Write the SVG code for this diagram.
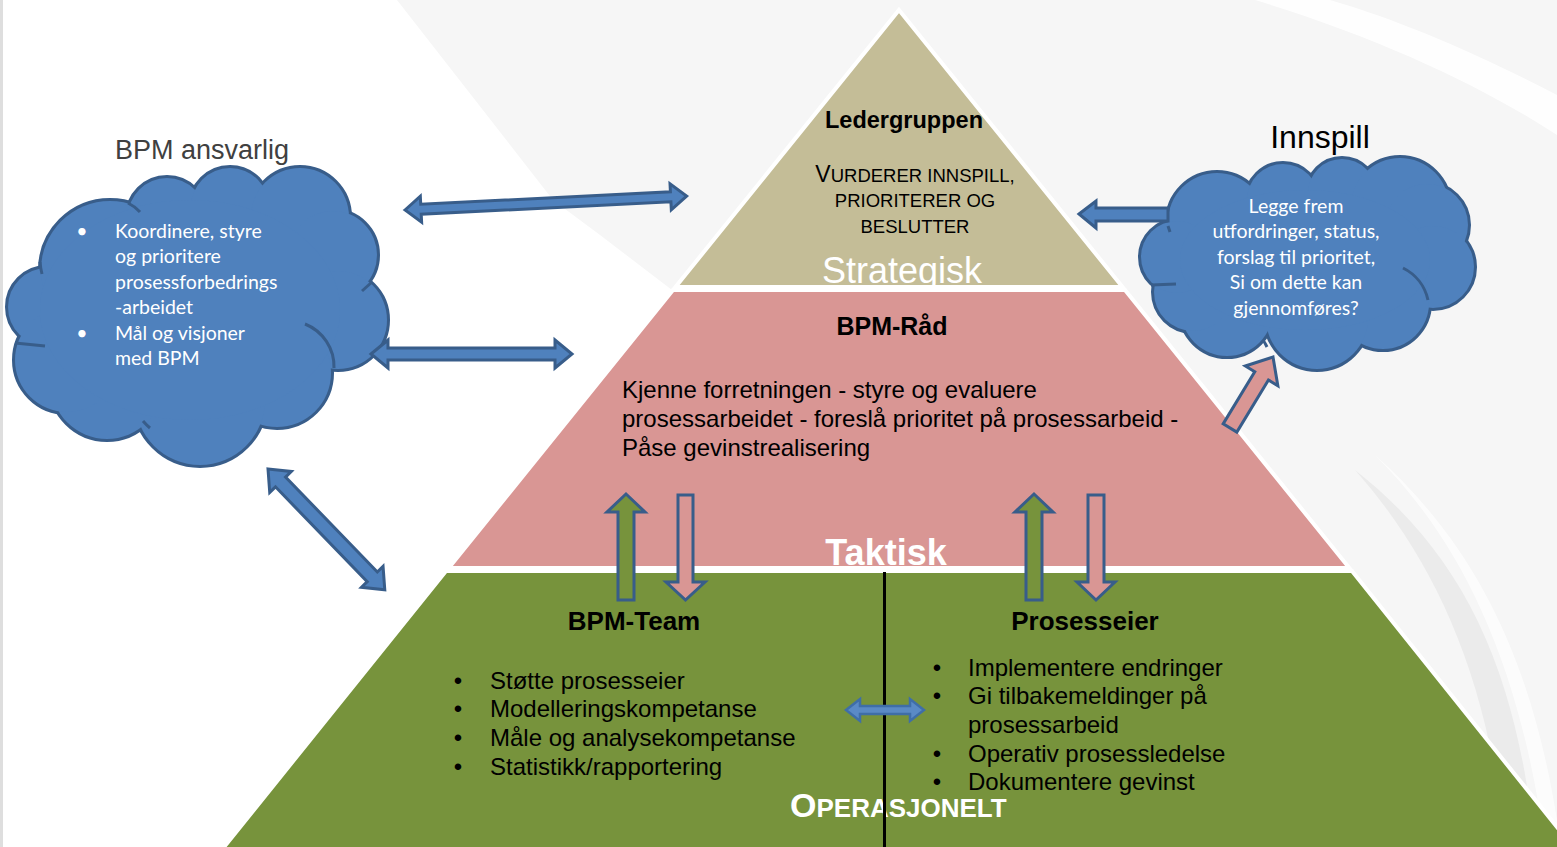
<svg xmlns="http://www.w3.org/2000/svg" width="1557" height="847" viewBox="0 0 1557 847">
<defs>
<style>
.lay{stroke:#FFFFFF;stroke-width:4;stroke-linejoin:miter}
.cl{fill:#4F81BD;stroke:#385D8A;stroke-width:4}
.cf{fill:#4F81BD}
.hook{fill:none;stroke:#385D8A;stroke-width:3}
.arr{fill:#4F81BD;stroke:#385D8A;stroke-width:3;stroke-linejoin:miter}
.arrg{fill:#77933C;stroke:#385D8A;stroke-width:3}
.arrp{fill:#D99694;stroke:#385D8A;stroke-width:3}
.ct{font-family:Lato,"Open Sans",sans-serif;font-size:19.5px;fill:#FFFFFF}
.t{font-family:"Liberation Sans",Arial,sans-serif;fill:#000000}
.b{font-weight:bold}
</style>
</defs>
<g id="background">
<rect x="0" y="0" width="1557" height="847" fill="#FFFFFF"/>
<polygon points="397,0 1557,0 1557,847 900,847 900,400 672,290 600,235 553,200" fill="#F6F6F6"/>
<path d="M1255,0 C1380,38 1480,85 1557,135 L1557,95 C1480,55 1400,20 1330,0 Z" fill="#FFFFFF" opacity="0.9"/>
<path d="M1355,470 C1435,560 1490,680 1505,847 L1535,847 C1518,680 1470,560 1355,470 Z" fill="#EBEBEB"/>
<path d="M1375,455 C1460,540 1520,660 1545,847 L1557,847 L1557,820 C1530,650 1470,540 1375,455 Z" fill="#FFFFFF" opacity="0.7"/>
<rect x="0" y="0" width="3" height="847" fill="#DEDEDE"/>
</g>
<g id="ledergruppen">
<polygon class="lay" points="899,10 1122.5,287 675.5,287" fill="#C4BD97"/>
<text class="t b" x="904" y="128" font-size="23.5" text-anchor="middle">Ledergruppen</text>
<text class="t" x="915" y="182" font-size="18.5" text-anchor="middle"><tspan font-size="23">V</tspan>URDERER INNSPILL,</text>
<text class="t" x="915" y="207" font-size="18.5" text-anchor="middle">PRIORITERER OG</text>
<text class="t" x="915" y="233" font-size="18.5" text-anchor="middle">BESLUTTER</text>
<text class="t" x="902" y="283" font-size="36" text-anchor="middle" style="fill:#FFFFFF">Strategisk</text>
</g>
<g id="bpm-raad">
<polygon class="lay" points="673,290 1125,290 1349.3,568 448.7,568" fill="#D99694"/>
<text class="t b" x="892" y="335" font-size="25" text-anchor="middle">BPM-Råd</text>
<text class="t" font-size="24"><tspan x="622" y="398">Kjenne forretningen - styre og evaluere</tspan><tspan x="622" y="427">prosessarbeidet - foreslå prioritet på prosessarbeid -</tspan><tspan x="622" y="456">Påse gevinstrealisering</tspan></text>
</g>
<g id="operasjonelt">
<polygon class="lay" points="446,571 1352,571 1585,862 212,862" fill="#77933C"/>
<text class="t b" x="886" y="565" font-size="36" text-anchor="middle" style="fill:#FFFFFF">Taktisk</text>
<text class="t b" x="634" y="630" font-size="26" text-anchor="middle">BPM-Team</text>
<text class="t b" x="1085" y="630" font-size="26" text-anchor="middle">Prosesseier</text>
<g class="t" font-size="24">
<text x="458" y="689" text-anchor="middle">•</text>
<text x="458" y="717" text-anchor="middle">•</text>
<text x="458" y="746" text-anchor="middle">•</text>
<text x="458" y="775" text-anchor="middle">•</text>
<text x="490" y="689">Støtte prosesseier</text>
<text x="490" y="717">Modelleringskompetanse</text>
<text x="490" y="746">Måle og analysekompetanse</text>
<text x="490" y="775">Statistikk/rapportering</text>
<text x="937" y="676" text-anchor="middle">•</text>
<text x="937" y="704" text-anchor="middle">•</text>
<text x="937" y="762" text-anchor="middle">•</text>
<text x="937" y="790" text-anchor="middle">•</text>
<text x="968" y="676">Implementere endringer</text>
<text x="968" y="704">Gi tilbakemeldinger på</text>
<text x="968" y="733">prosessarbeid</text>
<text x="968" y="762">Operativ prosessledelse</text>
<text x="968" y="790">Dokumentere gevinst</text>
</g>
<text class="t b" x="790" y="817" style="fill:#FFFFFF"><tspan font-size="34">O</tspan><tspan font-size="26">PERASJONELT</tspan></text>
<line x1="884.5" y1="572" x2="884.5" y2="847" stroke="#000000" stroke-width="3"/>
</g>
<g id="bpm-ansvarlig">
<text x="115" y="159" font-family="Liberation Sans, Arial, sans-serif" font-size="27" fill="#404040">BPM ansvarlig</text>
<g class="cl">
<circle cx="47" cy="307" r="40"/><circle cx="110" cy="270" r="70"/><circle cx="167" cy="217" r="40"/><circle cx="230" cy="207" r="40"/><circle cx="300" cy="217" r="50"/><circle cx="333" cy="255" r="45"/><circle cx="338" cy="320" r="50"/><circle cx="277" cy="373" r="55"/><circle cx="200" cy="400" r="66"/><circle cx="107" cy="383" r="57"/><circle cx="67" cy="360" r="53"/>
</g>
<g class="cf">
<circle cx="47" cy="307" r="39"/><circle cx="110" cy="270" r="69"/><circle cx="167" cy="217" r="39"/><circle cx="230" cy="207" r="39"/><circle cx="300" cy="217" r="49"/><circle cx="333" cy="255" r="44"/><circle cx="338" cy="320" r="49"/><circle cx="277" cy="373" r="54"/><circle cx="200" cy="400" r="65"/><circle cx="107" cy="383" r="56"/><circle cx="67" cy="360" r="52"/>
<ellipse cx="190" cy="310" rx="150" ry="110"/>
</g>
<path class="hook" d="M305,324 A46,46 0 0 1 334,368"/>
<path class="hook" d="M40,262 A70,70 0 0 0 42,274"/>
<path class="hook" d="M128,203 A40,40 0 0 1 140,212"/>
<path class="hook" d="M15,343 L45,346"/>
<path class="hook" d="M362,291 L372,282"/>
<path class="hook" d="M143,421 A66,66 0 0 0 150,428"/>
<text class="ct" x="82" y="238" text-anchor="middle">•</text>
<text class="ct" x="82" y="340" text-anchor="middle">•</text>
<text class="ct"><tspan x="115" y="238">Koordinere, styre</tspan><tspan x="115" y="263">og prioritere</tspan><tspan x="115" y="289">prosessforbedrings</tspan><tspan x="115" y="314">-arbeidet</tspan><tspan x="115" y="340">Mål og visjoner</tspan><tspan x="115" y="365">med BPM</tspan></text>
</g>
<g id="innspill">
<text x="1320" y="148" font-family="Liberation Sans, Arial, sans-serif" font-size="32" fill="#000000" text-anchor="middle">Innspill</text>
<g class="cl">
<circle cx="1217" cy="222" r="50"/><circle cx="1283" cy="200" r="37"/><circle cx="1342" cy="193" r="35"/><circle cx="1400" cy="207" r="50"/><circle cx="1427" cy="225" r="42"/><circle cx="1433" cy="267" r="42"/><circle cx="1383" cy="303" r="47"/><circle cx="1317" cy="318" r="52"/><circle cx="1227" cy="310" r="47"/><circle cx="1193" cy="292" r="40"/><circle cx="1177" cy="257" r="37"/>
</g>
<g class="cf">
<circle cx="1217" cy="222" r="49"/><circle cx="1283" cy="200" r="36"/><circle cx="1342" cy="193" r="34"/><circle cx="1400" cy="207" r="49"/><circle cx="1427" cy="225" r="41"/><circle cx="1433" cy="267" r="41"/><circle cx="1383" cy="303" r="46"/><circle cx="1317" cy="318" r="51"/><circle cx="1227" cy="310" r="46"/><circle cx="1193" cy="292" r="39"/><circle cx="1177" cy="257" r="36"/>
<ellipse cx="1305" cy="260" rx="125" ry="70"/>
</g>
<path class="hook" d="M1403,268 A47,47 0 0 1 1428,300"/>
<path class="hook" d="M1151,285 L1176,284"/>
<path class="hook" d="M1168,226 L1170,232"/>
<path class="hook" d="M1263,340 A50,50 0 0 1 1267,347"/>
<text class="ct" text-anchor="middle"><tspan x="1296" y="213">Legge frem</tspan><tspan x="1296" y="238">utfordringer, status,</tspan><tspan x="1296" y="264">forslag til prioritet,</tspan><tspan x="1296" y="289">Si om dette kan</tspan><tspan x="1296" y="315">gjennomføres?</tspan></text>
</g>
<g id="connectors">
<polygon class="arr" transform="translate(405,210) rotate(-2.84)" points="0,0 16,-13 16,-5 266,-5 266,-13 282,0 266,13 266,5 16,5 16,13"/>
<polygon class="arr" transform="translate(371,354)" points="0,0 17,-14 17,-6 184,-6 184,-14 201,0 184,14 184,6 17,6 17,14"/>
<polygon class="arr" transform="translate(268,469) rotate(45.96)" points="0,0 18,-15 18,-7 150,-7 150,-15 168,0 150,15 150,7 18,7 18,15"/>
<polygon class="arr" points="1079,214 1096,201 1096,208 1168,208 1168,221 1096,221 1096,228"/>
<polygon class="arrp" transform="translate(1230,428) rotate(-58.8)" points="0,-8 61,-8 61,-19 83,0 61,19 61,8 0,8"/>
<polygon class="arrg" points="626,494 645,512 634,512 634,600 618,600 618,512 607,512"/>
<polygon class="arrp" points="678,495 693,495 693,582 705,582 685.5,600 666,582 678,582"/>
<polygon class="arrg" points="1034,494 1053,512 1042,512 1042,600 1026,600 1026,512 1015,512"/>
<polygon class="arrp" points="1088,495 1104,495 1104,582 1115,582 1096,600 1077,582 1088,582"/>
<polygon transform="translate(846,710)" points="0,0 14,-11 14,-4 64,-4 64,-11 78,0 64,11 64,4 14,4 14,11" fill="#5A8AC6" stroke="#3F6EA8" stroke-width="2.5"/>
</g>
</svg>
